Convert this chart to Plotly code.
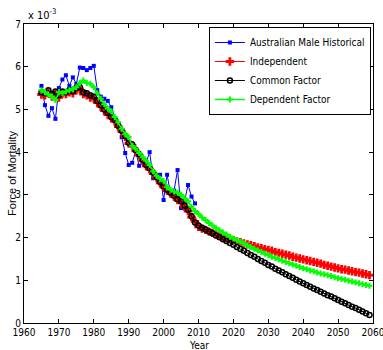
import plotly.graph_objects as go

# ---- data (force of mortality, units of 1e-3) ----
hist_years = list(range(1965, 2010))
hist_vals = [5.55, 5.10, 4.85, 5.03, 4.78, 5.50, 5.70, 5.80, 5.55, 5.75,
             5.60, 5.98, 5.97, 5.92, 5.97, 6.02, 5.45, 5.30, 5.25, 5.20,
             5.05, 4.80, 4.60, 4.35, 3.98, 3.70, 3.75, 4.02, 3.68, 3.77,
             3.75, 4.00, 3.39, 3.45, 3.47, 2.88, 3.47, 3.04, 3.10, 3.58,
             2.69, 2.85, 3.23, 2.96, 2.80]

model_years = list(range(1965, 2060))

indep_vals = [5.35, 5.33, 5.40, 5.30, 5.38, 5.28, 5.38, 5.36, 5.40, 5.38,
              5.45, 5.48, 5.36, 5.33, 5.28, 5.26, 5.16, 5.07, 4.97, 4.88,
              4.80, 4.72, 4.60, 4.48, 4.36, 4.20, 4.16, 4.03, 3.93, 3.80,
              3.68, 3.60, 3.50, 3.40, 3.28, 3.18, 3.10, 3.03, 2.96, 2.88,
              2.82, 2.72, 2.62, 2.48, 2.38,
              2.25, 2.21, 2.18, 2.14, 2.11, 2.08, 2.05, 2.02, 1.99, 1.97,
              1.94, 1.91, 1.89, 1.86, 1.84, 1.82, 1.80, 1.77, 1.75, 1.73,
              1.71, 1.69, 1.66, 1.64, 1.62, 1.60, 1.58, 1.55, 1.53, 1.51,
              1.49, 1.47, 1.45, 1.43, 1.41, 1.39, 1.36, 1.34, 1.32, 1.30,
              1.28, 1.26, 1.25, 1.23, 1.21, 1.19, 1.18, 1.16, 1.14, 1.12]

common_vals = [5.40, 5.38, 5.45, 5.36, 5.42, 5.33, 5.42, 5.40, 5.45, 5.42,
               5.50, 5.52, 5.40, 5.38, 5.33, 5.30, 5.20, 5.10, 5.00, 4.92,
               4.82, 4.75, 4.62, 4.50, 4.38, 4.22, 4.18, 4.05, 3.95, 3.82,
               3.70, 3.62, 3.52, 3.42, 3.30, 3.20, 3.12, 3.05, 2.98, 2.90,
               2.85, 2.75, 2.65, 2.50, 2.35,
               2.28, 2.23, 2.19, 2.14, 2.10, 2.05, 2.01, 1.96, 1.92, 1.87,
               1.83, 1.78, 1.73, 1.69, 1.64, 1.59, 1.55, 1.50, 1.45, 1.41,
               1.36, 1.32, 1.27, 1.23, 1.19, 1.14, 1.10, 1.06, 1.01, 0.97,
               0.93, 0.89, 0.85, 0.81, 0.77, 0.73, 0.69, 0.65, 0.62, 0.58,
               0.54, 0.50, 0.46, 0.42, 0.38, 0.35, 0.31, 0.27, 0.23, 0.19]

dep_vals = [5.45, 5.40, 5.35, 5.30, 5.22, 5.40, 5.38, 5.42, 5.45, 5.48,
            5.52, 5.62, 5.68, 5.62, 5.60, 5.52, 5.38, 5.25, 5.12, 5.02,
            4.95, 4.82, 4.70, 4.55, 4.42, 4.35, 4.15, 4.08, 3.98, 3.88,
            3.80, 3.70, 3.55, 3.45, 3.38, 3.32, 3.18, 3.12, 3.08, 3.05,
            3.00, 2.92, 2.85, 2.72, 2.62,
            2.55, 2.47, 2.41, 2.34, 2.28, 2.22, 2.17, 2.12, 2.07, 2.02,
            1.98, 1.94, 1.90, 1.86, 1.82, 1.78, 1.74, 1.70, 1.66, 1.62,
            1.59, 1.55, 1.52, 1.49, 1.46, 1.43, 1.40, 1.37, 1.34, 1.31,
            1.28, 1.26, 1.23, 1.21, 1.18, 1.16, 1.14, 1.12, 1.10, 1.07,
            1.05, 1.03, 1.01, 0.99, 0.97, 0.95, 0.93, 0.91, 0.89, 0.87]

x_ticks = list(range(1960, 2061, 10))
y_ticks = [0, 1, 2, 3, 4, 5, 6, 7]

SCALE = 1e-3
FONT = "DejaVu Sans Condensed, Liberation Sans Narrow, Liberation Sans, sans-serif"

fig = go.Figure()
fig.add_trace(go.Scatter(x=hist_years, y=[v * SCALE for v in hist_vals],
                         mode="lines+markers", name="Australian Male Historical",
                         line=dict(color="#0000ff", width=1),
                         marker=dict(symbol="square", size=4, color="#0000ff")))
fig.add_trace(go.Scatter(x=model_years, y=[v * SCALE for v in indep_vals],
                         mode="lines+markers", name="Independent",
                         line=dict(color="#ff0000", width=1),
                         marker=dict(symbol="cross", size=7, color="#ff0000")))
fig.add_trace(go.Scatter(x=model_years, y=[v * SCALE for v in common_vals],
                         mode="lines+markers", name="Common Factor",
                         line=dict(color="#000000", width=1),
                         marker=dict(symbol="circle-open", size=5, color="#000000",
                                     line=dict(width=1.5))))
fig.add_trace(go.Scatter(x=model_years, y=[v * SCALE for v in dep_vals],
                         mode="lines+markers", name="Dependent Factor",
                         line=dict(color="#00ff00", width=1.5),
                         marker=dict(symbol="cross", size=5, color="#00ff00")))

axis_common = dict(showline=True, linecolor="black", linewidth=1, mirror="ticks",
                   ticks="inside", ticklen=4, tickcolor="black", showgrid=False,
                   zeroline=False, ticklabeloverflow="allow",
                   tickfont=dict(family=FONT, size=10, color="black"))

fig.update_xaxes(range=[1960, 2060], tickvals=x_ticks,
                 ticktext=[str(t) for t in x_ticks], **axis_common)
fig.update_yaxes(range=[0, 7 * SCALE], tickvals=[t * SCALE for t in y_ticks],
                 ticktext=[str(t) for t in y_ticks], **axis_common)

fig.update_layout(
    width=383, height=350,
    margin=dict(l=24, r=10, t=24, b=27, autoexpand=False),
    paper_bgcolor="white", plot_bgcolor="white",
    font=dict(family=FONT, size=11, color="black"),
    showlegend=True,
    legend=dict(x=0.994, y=0.99, xanchor="right", yanchor="top",
                bgcolor="white", bordercolor="black", borderwidth=1,
                font=dict(family=FONT, size=10, color="black"),
                itemwidth=30, tracegroupgap=0),
    annotations=[
        dict(text="x 10<sup>-3</sup>", xref="paper", yref="paper", x=0.005, y=1.0,
             xanchor="left", yanchor="bottom", showarrow=False,
             font=dict(family=FONT, size=11, color="black")),
        dict(text="Year", xref="paper", yref="paper", x=0.5, y=-0.074,
             xanchor="center", yanchor="middle", showarrow=False,
             font=dict(family=FONT, size=10, color="black")),
        dict(text="Force of Mortality", xref="paper", yref="paper", x=-0.036, y=0.5,
             xanchor="center", yanchor="middle", textangle=-90, showarrow=False,
             font=dict(family="Liberation Sans, Arial, sans-serif", size=11, color="black")),
    ],
)

fig.write_html("out.html", config={"displayModeBar": False},
               post_script="document.body.style.margin='0';document.body.style.overflow='hidden';")
